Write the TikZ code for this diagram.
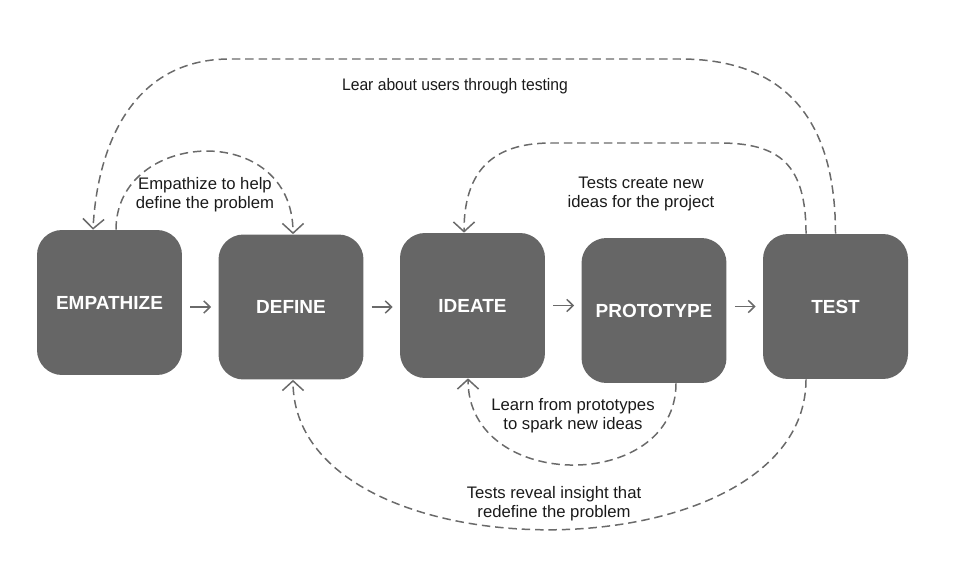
\documentclass[tikz,border=0pt]{standalone}
\usepackage{fontspec}
\setmainfont{Liberation Sans}
\usetikzlibrary{arrows.meta}
\definecolor{boxgray}{HTML}{666666}
\definecolor{linegray}{HTML}{6A6A6A}
\definecolor{textgray}{HTML}{1A1A1A}
\begin{document}
\begin{tikzpicture}[x=0.02cm, y=-0.02cm,
    stage/.style={fill=boxgray, rounded corners=0.5cm, minimum width=2.9cm,
      minimum height=2.9cm, inner sep=0pt, text=white,
      font=\fontsize{10.8}{12}\selectfont\bfseries},
    note/.style={align=center, text=textgray, inner sep=0pt,
      font=\fontsize{9.5}{10.8}\selectfont},
    flow/.style={draw=linegray, line width=0.85pt, -{Straight Barb[length=3.6pt,width=7pt]},
      shorten <=4.5pt, shorten >=4pt},
    loop/.style={draw=linegray, line width=0.85pt, dash pattern=on 4.8pt off 2.8pt,
      -{Straight Barb[length=5.5pt,width=12pt]}}]
  \useasboundingbox (0,0) rectangle (959,584);
  \node[stage] (emp) at (109.5,302.5) {EMPATHIZE};
  \node[stage] (def) at (291,307) {DEFINE};
  \node[stage] (ide) at (472.5,305.5) {IDEATE};
  \node[stage] (pro) at (654,310.5) {PROTOTYPE};
  \node[stage] (tst) at (835.5,306.5) {TEST};
  \node[note] (n1) at (455,86) {\addfontfeatures{FakeStretch=0.94}Lear about users through testing};
  \node[note] (n2) at (205,195) {Empathize to help\\define the problem};
  \node[note] (n3) at (641,194) {Tests create new\\ideas for the project};
  \node[note] (n4) at (573,416) {Learn from prototypes\\to spark new ideas};
  \node[note] (n5) at (554,504) {Tests reveal insight that\\redefine the problem};
    \draw[flow] (emp.east |- def.west) -- (def.west);
    \draw[flow] (def.east) -- (ide.west |- def.east);
    \draw[flow] (ide.east) -- (pro.west |- ide.east);
    \draw[flow] (pro.east |- tst.west) -- (tst.west);
    % loops back
    \draw[loop] (tst.north) .. controls +(0,-120) and +(100,0) .. (680,59)
      -- (230,59) .. controls +(-100,0) and +(4,-80) .. ([xshift=-0.33cm]emp.north);
    \draw[loop] ([xshift=0.13cm]emp.north) .. controls +(0,-100) and +(0,-115) .. ([xshift=0.04cm]def.north);
    \draw[loop] ([xshift=-0.59cm]tst.north) .. controls +(0,-70) and +(60,0) .. (719,143)
      -- (551,143) .. controls +(-60,0) and +(0,-60) .. ([xshift=-0.17cm]ide.north);
    \draw[loop] ([xshift=0.44cm]pro.south) .. controls +(0,110) and +(0,114) .. ([xshift=-0.09cm]ide.south);
    \draw[loop] ([xshift=-0.59cm]tst.south) .. controls +(0,200) and +(0,200) .. ([xshift=0.04cm]def.south);
\end{tikzpicture}
\end{document}
